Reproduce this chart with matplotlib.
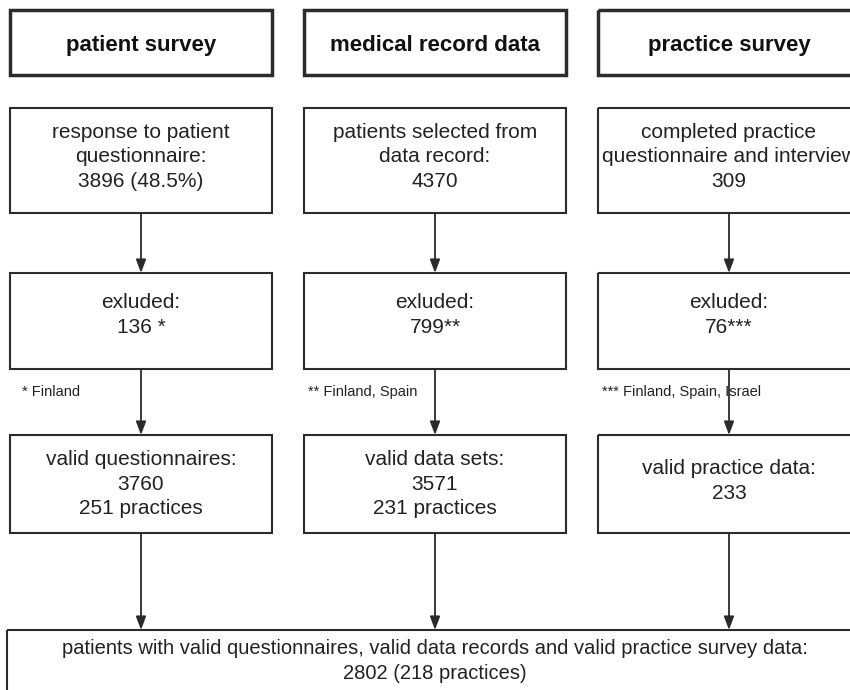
import matplotlib
matplotlib.use("Agg")
from matplotlib import pyplot as plt
from matplotlib.patches import Rectangle

# flowchart content
headers = ["patient survey", "medical record data", "practice survey"]
first_step = ["response to patient\nquestionnaire:\n3896 (48.5%)",
              "patients selected from\ndata record:\n4370",
              "completed practice\nquestionnaire and interview\n309"]
excluded = ["136 *", "799**", "76***"]
footnotes = ["* Finland", "** Finland, Spain", "*** Finland, Spain, Israel"]
valid = ["valid questionnaires:\n3760\n251 practices",
         "valid data sets:\n3571\n231 practices",
         "valid practice data:\n233"]
final = "patients with valid questionnaires, valid data records and valid practice survey data:\n2802 (218 practices)"

plt.rcParams['font.family'] = ['Liberation Sans', 'DejaVu Sans']

line_col = "#2b2b2b"
text_col = "#222222"

fig = plt.figure(figsize=(8.5, 6.9), dpi=100)
ax = fig.add_axes([0, 0, 1, 1])
ax.set_xlim(0, 850)
ax.set_ylim(690, 0)
ax.axis('off')

col_left = [10, 304, 598]
col_width = 262
centers = [x + col_width / 2 for x in col_left]


def box(x, y, w, h, lw=1.5):
    ax.add_patch(Rectangle((x, y), w, h, fill=False, edgecolor=line_col, linewidth=lw))


def arrow(x, y0, y1):
    ax.annotate("", xy=(x, y1), xytext=(x, y0),
                arrowprops=dict(arrowstyle="-|>,head_length=0.8,head_width=0.3", color=line_col, lw=1.3,
                                mutation_scale=10, shrinkA=0, shrinkB=0))


for i in range(3):
    x = col_left[i]
    cx = centers[i]
    # header
    box(x, 10, col_width, 65, lw=2.5)
    ax.text(cx, 43, headers[i], ha='center', va='center_baseline', fontsize=16,
            fontweight='bold', color='#111111')
    # first step
    box(x, 108, col_width, 105)
    ax.text(cx, 157, first_step[i], ha='center', va='center', fontsize=15,
            color=text_col, linespacing=1.38)
    # excluded
    box(x, 273, col_width, 96)
    ax.text(cx, 315, "exluded:\n" + excluded[i], ha='center', va='center',
            fontsize=15, color=text_col, linespacing=1.38)
    ax.text(x + 12 - (8 if i > 0 else 0), 392, footnotes[i], ha='left', va='center',
            fontsize=10.5, color=text_col)
    # valid
    box(x, 435, col_width, 98)
    if i < 2:
        ax.text(cx, 484, valid[i], ha='center', va='center', fontsize=15,
                color=text_col, linespacing=1.38)
    else:
        ax.text(cx, 481, valid[i], ha='center', va='center', fontsize=15,
                color=text_col, linespacing=1.38)
    # arrows
    arrow(cx, 213, 273)
    arrow(cx, 369, 435)
    arrow(cx, 533, 630)

box(7, 630, 860, 80)
ax.text(435, 661, final, ha='center', va='center', fontsize=14.5,
        color=text_col, linespacing=1.38)

fig.savefig("out.png", dpi=100)
